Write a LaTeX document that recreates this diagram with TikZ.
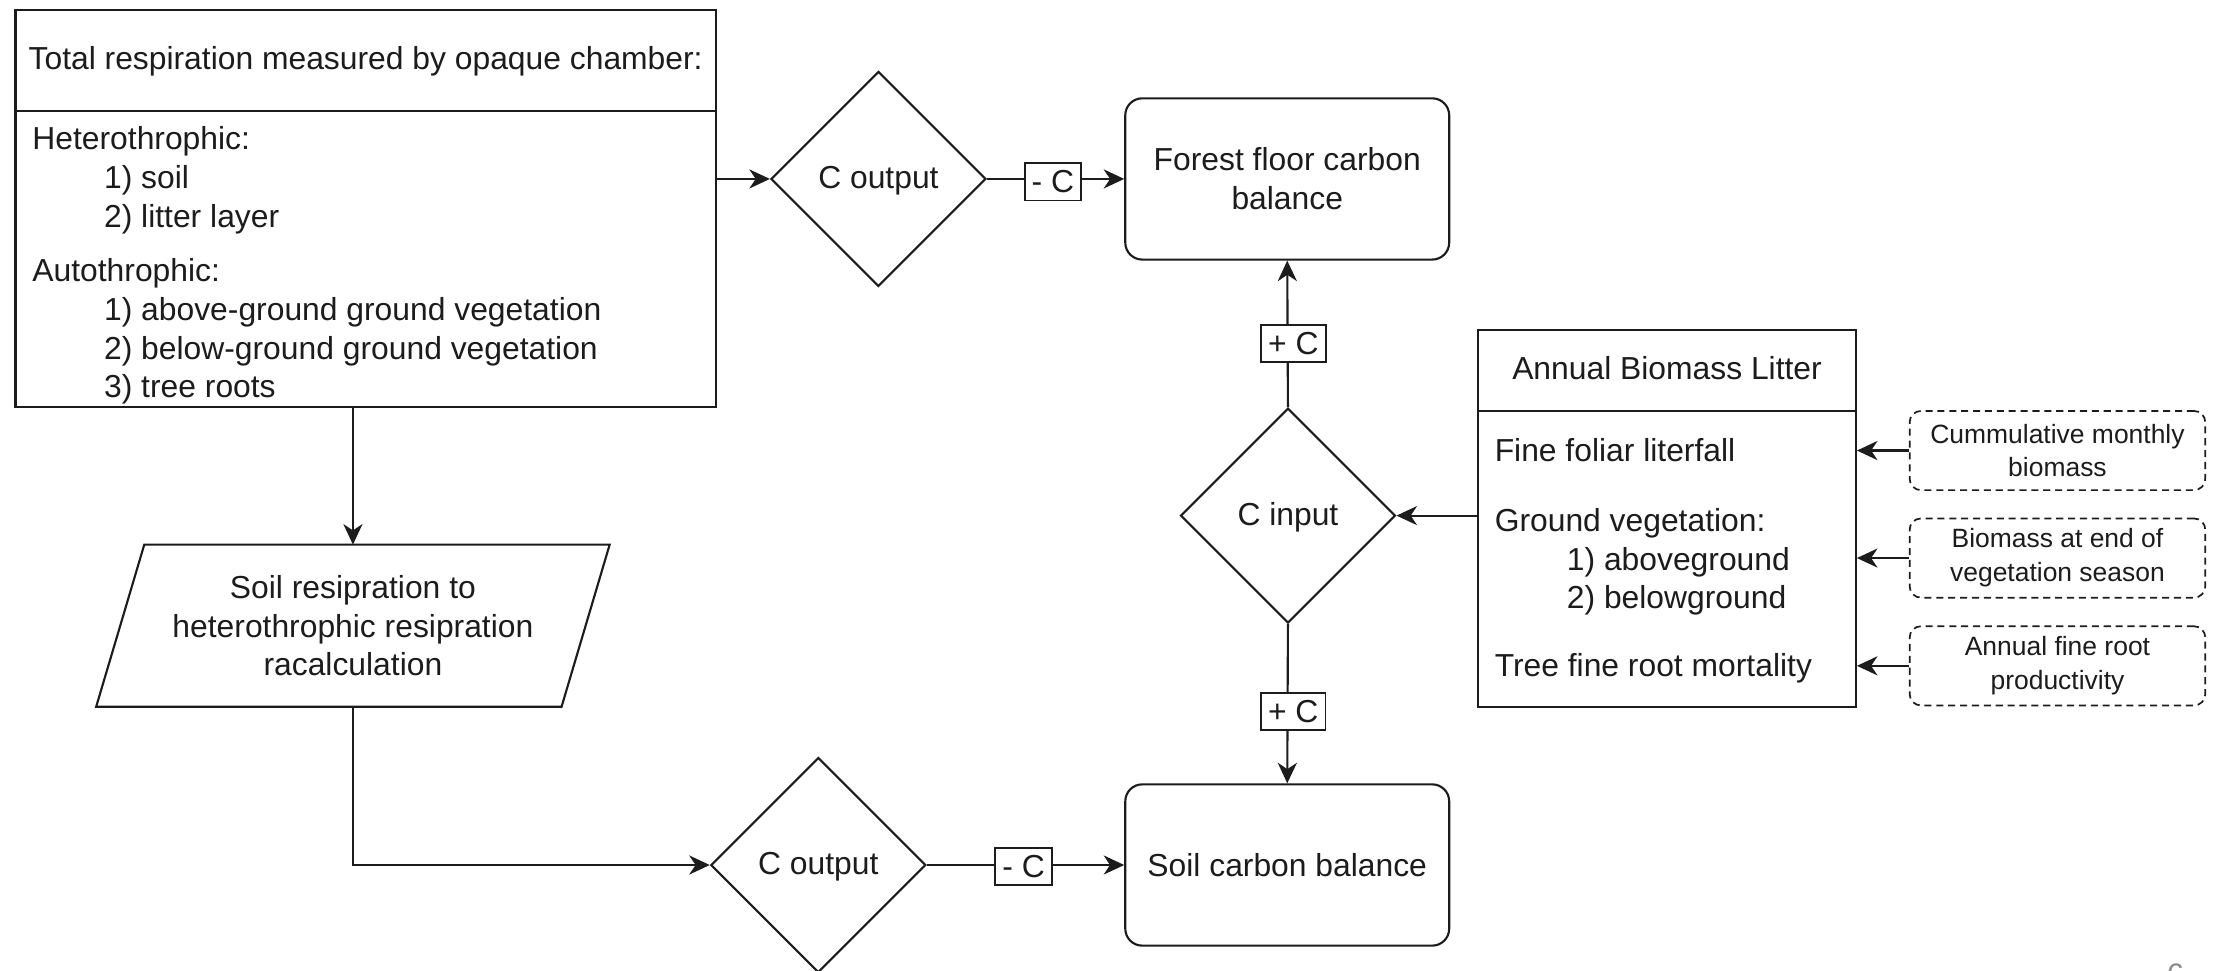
\documentclass[tikz,border=0pt]{standalone}
\usepackage{fontspec}
\setmainfont{Liberation Sans}
\usetikzlibrary{shapes.geometric,arrows.meta,calc}
\definecolor{ink}{RGB}{28,28,28}
\definecolor{pagegray}{RGB}{140,140,140}
\begin{document}
\begin{tikzpicture}[x=1pt,y=-1pt,
  base/.style={text=ink, font=\fontsize{22.5pt}{27.5pt}\selectfont},
  ln/.style={base, inner sep=0pt, anchor=base west},
  plain/.style={draw=ink, line width=1.5pt},
  decision/.style={plain, diamond, minimum width=152pt, minimum height=152pt, inner sep=0pt, base},
  dtext/.style={base, inner sep=0pt, yshift=-1.5pt},
  balance/.style={plain, rounded corners=12pt, minimum width=229pt, minimum height=114pt, align=center, base},
  source/.style={draw=ink, line width=1.2pt, dash pattern=on 5pt off 3.4pt, rounded corners=8pt, minimum width=209pt, minimum height=56pt, align=center, text=ink, font=\fontsize{18.7pt}{24pt}\selectfont},
  flowlbl/.style={draw=ink, line width=1.3pt, fill=white, inner xsep=5pt, inner ysep=0pt, minimum height=26.5pt, base},
  arr/.style={draw=ink, line width=1.5pt, -{Stealth[length=14.5pt,width=13.5pt,inset=4.5pt]}}
]
\fill[white] (0,0) rectangle (1568,686);
\useasboundingbox (0,0) rectangle (1568,686);

% ---- top-left box ----
\node[plain, minimum width=495pt, minimum height=281pt, inner sep=0pt] (total) at (258.5,147.5) {};
\draw[plain] (total.west |- 0,78.5) -- (total.east |- 0,78.5);
\node[base, inner sep=0pt] (totalhead) at (258.5,43) {Total respiration measured by opaque chamber:};
\node[ln] (t1) at (22.7,105.8) {Heterothrophic:};
\node[ln] (t2) at (73.4,133.3) {1) soil};
\node[ln] (t3) at (73.4,160.8) {2) litter layer};
\node[ln] (t4) at (22.7,198.8) {Autothrophic:};
\node[ln] (t5) at (73.4,226.3) {1) above-ground ground vegetation};
\node[ln] (t6) at (73.4,253.8) {2) below-ground ground vegetation};
\node[ln] (t7) at (73.4,281.3) {3) tree roots};

% ---- parallelogram ----
\coordinate (paraN) at (249.5,385);
\coordinate (paraS) at (249.5,499.6);
\draw[plain] (102,385) -- (431,385) -- (397,499.6) -- (68,499.6) -- cycle;
\node[base, align=center, inner sep=0pt] (para) at (249.5,442.3) {Soil resipration to\\heterothrophic resipration\\racalculation};

% ---- decisions ----
\node[decision] (d1) at (621,126.5) {};
\node[dtext] (d1t) at (d1) {C output};
\node[decision] (cin) at (910.5,364.5) {};
\node[dtext] (cint) at (cin) {C input};
\node[decision] (d2) at (578.5,611.5) {};
\node[dtext] (d2t) at (d2) {C output};

% ---- balances ----
\node[balance] (forest) at (910,126.5) {Forest floor carbon\\balance};
\node[balance] (soil) at (910,611.5) {Soil carbon balance};

% ---- annual biomass litter ----
\node[plain, minimum width=267pt, minimum height=266.6pt, inner sep=0pt] (ann) at (1178.5,366.3) {};
\draw[plain] (ann.west |- 0,290.5) -- (ann.east |- 0,290.5);
\node[base, inner sep=0pt] (annhead) at (1178.5,260) {Annual Biomass Litter};
\node[ln] (a1) at (1056.5,326) {Fine foliar literfall};
\node[ln] (a2) at (1056.5,375.5) {Ground vegetation:};
\node[ln] (a3) at (1107.5,403) {1) aboveground};
\node[ln] (a4) at (1107.5,430.5) {2) belowground};
\node[ln] (a5) at (1056.5,478) {Tree fine root mortality};

% ---- sources ----
\node[source] (src1) at (1454.5,318.5) {Cummulative monthly\\biomass};
\node[source] (src2) at (1454.5,394.5) {Biomass at end of\\vegetation season};
\node[source] (src3) at (1454.5,470.7) {Annual fine root\\productivity};

% ---- connectors ----
\draw[arr] (total.east |- d1) -- (d1.west);
\draw[arr] (d1.east) -- node[flowlbl, pos=0.48, yshift=-2pt] (lm1) {- C} (forest.west);
\draw[arr] (cin.north) -- node[flowlbl, pos=0.433, xshift=4pt] (lp1) {+ C} (forest.south);
\draw[arr] (cin.south) -- node[flowlbl, pos=0.548, xshift=4pt] (lp2) {+ C} (soil.north);
\draw[arr] (ann.west |- cin) -- (cin.east);
\draw[arr] (src1.west) -- (src1.west -| ann.east);
\draw[arr] (src2.west) -- (src2.west -| ann.east);
\draw[arr] (src3.west) -- (src3.west -| ann.east);
\draw[arr] (total.south -| paraN) -- (paraN);
\draw[arr] (paraS) |- (d2.west);
\draw[arr] (d2.east) -- node[flowlbl, pos=0.49, yshift=-1pt] (lm2) {- C} (soil.west);

% ---- page number (cut by the slide edge, as in the source) ----
\node[text=pagegray, font=\fontsize{22pt}{22pt}\selectfont, anchor=base, inner sep=0pt] (pagenum) at (1538,697) {6};
\end{tikzpicture}
\end{document}
